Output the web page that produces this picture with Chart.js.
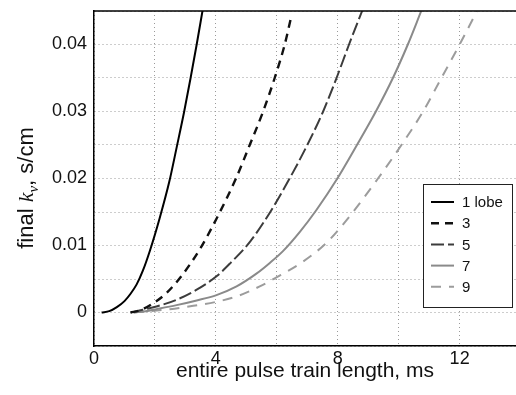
<!DOCTYPE html>
<html>
<head>
<meta charset="utf-8">
<script src="https://cdn.jsdelivr.net/npm/chart.js@4.4.1/dist/chart.umd.min.js"></script>
<style>
  body { margin: 0; background: #fff; }
  canvas { display: block; }
</style>
</head>
<body>
<canvas id="chart" width="516" height="395"></canvas>
<script>
// values (x in ms, y in s/cm)
const lobe1X = [0.25, 0.5, 0.75, 1.0, 1.2, 1.4, 1.6, 1.84, 2.15, 2.47, 2.72, 2.96, 3.17, 3.37, 3.56];
const lobe1Y = [0, 0.0002, 0.0008, 0.0017, 0.0028, 0.0042, 0.0062, 0.0093, 0.014, 0.0195, 0.0248, 0.03, 0.035, 0.04, 0.045];

const lobe3X = [1.2, 1.5, 1.95, 2.4, 2.93, 3.48, 4.02, 4.66, 5.11, 5.55, 5.93, 6.26, 6.48];
const lobe3Y = [0, 0.0003, 0.0014, 0.003, 0.0058, 0.0095, 0.014, 0.02, 0.025, 0.03, 0.035, 0.04, 0.0443];

const lobe5X = [1.2, 1.6, 2.05, 2.71, 3.37, 4.02, 4.46, 5.11, 5.77, 6.42, 7.0, 7.52, 7.96, 8.37, 8.8];
const lobe5Y = [0, 0.0004, 0.0009, 0.0019, 0.0034, 0.0054, 0.0073, 0.0105, 0.0149, 0.02, 0.025, 0.03, 0.035, 0.04, 0.045];

const lobe7X = [1.3, 1.7, 2.05, 2.71, 3.37, 4.02, 4.68, 5.33, 5.77, 6.21, 6.75, 7.3, 7.96, 8.63, 9.25, 9.81, 10.3, 10.74];
const lobe7Y = [0, 0.0002, 0.0005, 0.0011, 0.0018, 0.0026, 0.0039, 0.0058, 0.0074, 0.0092, 0.012, 0.0153, 0.0198, 0.025, 0.03, 0.035, 0.04, 0.045];

const lobe9X = [1.3, 1.8, 2.49, 3.26, 4.02, 4.68, 5.44, 5.93, 6.86, 7.63, 8.29, 9.32, 10.09, 10.8, 11.4, 12.0, 12.57];
const lobe9Y = [0, 0.0002, 0.0005, 0.001, 0.0016, 0.0024, 0.0039, 0.0051, 0.0076, 0.0104, 0.0138, 0.02, 0.025, 0.03, 0.035, 0.04, 0.045];

const seriesLabels = ['1 lobe', '3', '5', '7', '9'];

const xGrid = [0, 2, 4, 6, 8, 10, 12];
const xTickLabels = ['0', '', '4', '', '8', '', '12'];
const yGrid = [-0.005, 0, 0.005, 0.01, 0.015, 0.02, 0.025, 0.03, 0.035, 0.04, 0.045];
const yTickLabels = ['', '0', '', '0.01', '', '0.02', '', '0.03', '', '0.04', ''];

const sans = "'Liberation Sans', Arial, sans-serif";
const serif = "'Liberation Serif', 'Times New Roman', serif";

function pts(xs, ys) {
    return xs.map((x, i) => ({ x: x, y: ys[i] }));
}

function line(label, xs, ys, color, width, dash) {
    return {
        label: label,
        data: pts(xs, ys),
        borderColor: color,
        borderWidth: width,
        borderDash: dash,
        pointRadius: 0,
        fill: false,
        cubicInterpolationMode: 'monotone'
    };
}

// frame top line, y title with italic k and subscript nu, boxed legend
const extras = {
    id: 'extras',
    afterDraw(chart) {
        const ctx = chart.ctx;
        const a = chart.chartArea;

        ctx.save();
        ctx.strokeStyle = '#000';
        ctx.lineWidth = 1.5;
        ctx.beginPath();
        ctx.moveTo(a.left, a.top);
        ctx.lineTo(a.right, a.top);
        ctx.stroke();
        ctx.restore();

        // y axis title
        const parts = [
            { t: 'final ', f: '22px ' + sans, dy: 0 },
            { t: 'k', f: 'italic 22px ' + serif, dy: 0 },
            { t: 'ν', f: 'italic 15px ' + serif, dy: 5 },
            { t: ', s/cm', f: '22px ' + sans, dy: 0 }
        ];
        ctx.save();
        ctx.translate(33, 188);
        ctx.rotate(-Math.PI / 2);
        ctx.fillStyle = '#111';
        ctx.textBaseline = 'alphabetic';
        let total = 0;
        parts.forEach(p => { ctx.font = p.f; p.w = ctx.measureText(p.t).width; total += p.w; });
        let cx = -total / 2;
        parts.forEach(p => {
            ctx.font = p.f;
            ctx.fillText(p.t, cx, p.dy);
            cx += p.w;
        });
        ctx.restore();

        // legend
        const bx = 423, by = 184, bw = 89, bh = 123;
        ctx.save();
        ctx.fillStyle = '#fff';
        ctx.fillRect(bx, by, bw, bh);
        ctx.strokeStyle = '#222';
        ctx.lineWidth = 1;
        ctx.strokeRect(bx + 0.5, by + 0.5, bw, bh);
        ctx.font = '15px ' + sans;
        ctx.textBaseline = 'middle';
        chart.data.datasets.forEach((ds, i) => {
            const y = by + 18 + i * 21.2;
            ctx.strokeStyle = ds.borderColor;
            ctx.lineWidth = ds.borderWidth;
            ctx.setLineDash(ds.borderDash || []);
            ctx.beginPath();
            ctx.moveTo(bx + 8, y);
            ctx.lineTo(bx + 31, y);
            ctx.stroke();
            ctx.setLineDash([]);
            ctx.fillStyle = '#111';
            ctx.fillText(ds.label, bx + 39, y + 1);
        });
        ctx.restore();
    }
};

const ctx = document.getElementById('chart').getContext('2d');

new Chart(ctx, {
    type: 'line',
    data: {
        datasets: [
            line(seriesLabels[0], lobe1X, lobe1Y, '#000000', 2, []),
            line(seriesLabels[1], lobe3X, lobe3Y, '#111111', 2.4, [8, 6]),
            line(seriesLabels[2], lobe5X, lobe5Y, '#3c3c3c', 2, [13, 4]),
            line(seriesLabels[3], lobe7X, lobe7Y, '#8a8a8a', 2, []),
            line(seriesLabels[4], lobe9X, lobe9Y, '#9c9c9c', 2, [10, 8])
        ]
    },
    options: {
        responsive: false,
        animation: false,
        layout: { padding: { top: 11, right: 0, left: 0, bottom: 0 } },
        plugins: {
            legend: { display: false },
            tooltip: { enabled: false }
        },
        scales: {
            x: {
                type: 'linear',
                min: 0,
                max: 13.85,
                afterBuildTicks: axis => { axis.ticks = xGrid.map(v => ({ value: v })); },
                afterFit: axis => { axis.height = 49; axis.paddingRight = 0; axis.paddingLeft = 0; },
                ticks: {
                    callback: (v, i) => xTickLabels[i],
                    font: { size: 18, family: sans },
                    color: '#111',
                    padding: 2,
                    maxRotation: 0,
                    autoSkip: false
                },
                grid: { color: '#9a9a9a', lineWidth: 1, drawTicks: false },
                border: { color: '#000', width: 1.5, dash: [1, 3] },
                title: {
                    display: true,
                    text: 'entire pulse train length, ms',
                    font: { size: 21, family: sans },
                    color: '#111',
                    padding: { top: 0, bottom: 11 }
                }
            },
            y: {
                min: -0.005,
                max: 0.045,
                afterBuildTicks: axis => { axis.ticks = yGrid.map(v => ({ value: v })); },
                afterFit: axis => { axis.width = 94; axis.paddingTop = 0; axis.paddingBottom = 0; },
                ticks: {
                    callback: (v, i) => yTickLabels[i],
                    font: { size: 18, family: sans },
                    color: '#111',
                    padding: 7,
                    autoSkip: false
                },
                grid: { color: '#9a9a9a', lineWidth: 1, drawTicks: false },
                border: { color: '#000', width: 1.5, dash: [1, 3] }
            }
        }
    },
    plugins: [extras]
});
</script>
</body>
</html>
